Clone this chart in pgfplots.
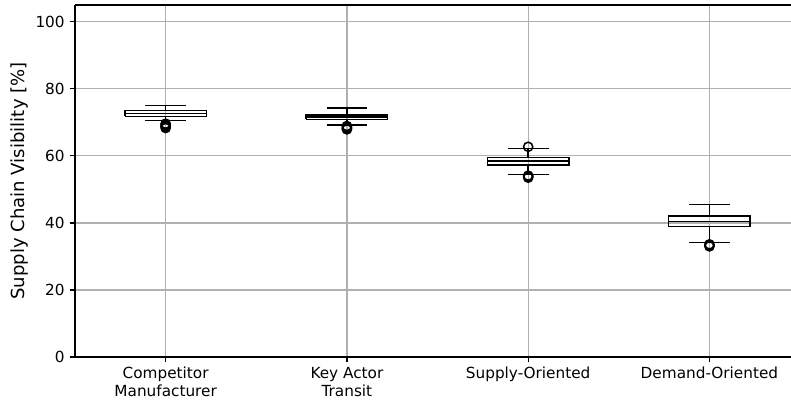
\documentclass[border=0pt]{standalone}
\usepackage{fontspec}
\setmainfont{DejaVu Sans}
\usepackage{pgfplots}
\pgfplotsset{compat=1.18}
\begin{document}
\begin{tikzpicture}
\useasboundingbox (-54pt,-34.56pt) rectangle (515.52pt,257.04pt);
\begin{axis}[
 at={(0,0)}, anchor=south west,
 scale only axis, width=515.52pt, height=253.44pt,
 xmin=0.5, xmax=4.45, ymin=0, ymax=105,
 axis x line*=box, axis y line*=left,
 xtick={1,2,3,4},
 xticklabels={{Competitor\\Manufacturer},{Key Actor\\Transit},{Supply-Oriented},{Demand-Oriented}},
 xticklabel style={align=center, font=\fontsize{11}{13}\selectfont, text depth=0pt},
 ytick={0,20,40,60,80,100},
 yticklabel style={font=\fontsize{11}{13}\selectfont},
 ylabel={Supply Chain Visibility [\%]},
 every axis y label/.style={at={(axis description cs:-0.0768,0.5)}, rotate=90, anchor=center, font=\fontsize{13}{15}\selectfont},
 grid=major, grid style={color=black!31, line width=0.88pt},
 tick align=outside, xtick pos=left, ytick pos=left, major tick length=3.9pt,
 tick style={black, line width=0.88pt},
 axis line style={line width=0.88pt},
 /pgf/number format/assume math mode=true,
 unbounded coords=jump,
 box/.style={black, line width=1.1pt, mark=none, line join=miter},
 flier/.style={black, only marks, mark=o, mark size=3.3pt, mark options={line width=1.1pt}},
]
% Competitor Manufacturer: lw 70.5, lq 71.8, med 72.7, uq 73.5, uw 75.0
\addplot[box] coordinates {(0.775,71.8) (1.225,71.8) (1.225,73.5) (0.775,73.5) (0.775,71.8) (1,nan)
  (0.775,72.7) (1.225,72.7) (1,nan)
  (1,71.8) (1,70.5) (1,nan) (0.8875,70.5) (1.1125,70.5) (1,nan)
  (1,73.5) (1,75.0) (1,nan) (0.8875,75.0) (1.1125,75.0)};
\addplot[flier] coordinates {(1,69.6) (1,69.3) (1,69.0) (1,68.7) (1,68.3)};
% Key Actor Transit: lw 69.2, lq 70.9, med 71.6, uq 72.2, uw 74.2
\addplot[box] coordinates {(1.775,70.9) (2.225,70.9) (2.225,72.2) (1.775,72.2) (1.775,70.9) (2,nan)
  (1.775,71.6) (2.225,71.6) (2,nan)
  (2,70.9) (2,69.2) (2,nan) (1.8875,69.2) (2.1125,69.2) (2,nan)
  (2,72.2) (2,74.2) (2,nan) (1.8875,74.2) (2.1125,74.2)};
\addplot[flier] coordinates {(2,68.9) (2,68.5) (2,68.1) (2,67.9)};
% Supply-Oriented: lw 54.5, lq 57.2, med 58.4, uq 59.5, uw 62.2
\addplot[box] coordinates {(2.775,57.2) (3.225,57.2) (3.225,59.5) (2.775,59.5) (2.775,57.2) (3,nan)
  (2.775,58.4) (3.225,58.4) (3,nan)
  (3,57.2) (3,54.5) (3,nan) (2.8875,54.5) (3.1125,54.5) (3,nan)
  (3,59.5) (3,62.2) (3,nan) (2.8875,62.2) (3.1125,62.2)};
\addplot[flier] coordinates {(3,62.7) (3,54.1) (3,53.8) (3,53.5)};
% Demand-Oriented: lw 34.2, lq 38.9, med 40.4, uq 42.1, uw 45.5
\addplot[box] coordinates {(3.775,38.9) (4.225,38.9) (4.225,42.1) (3.775,42.1) (3.775,38.9) (4,nan)
  (3.775,40.4) (4.225,40.4) (4,nan)
  (4,38.9) (4,34.2) (4,nan) (3.8875,34.2) (4.1125,34.2) (4,nan)
  (4,42.1) (4,45.5) (4,nan) (3.8875,45.5) (4.1125,45.5)};
\addplot[flier] coordinates {(4,33.6) (4,33.3) (4,33.0)};
\end{axis}
\end{tikzpicture}
\end{document}
